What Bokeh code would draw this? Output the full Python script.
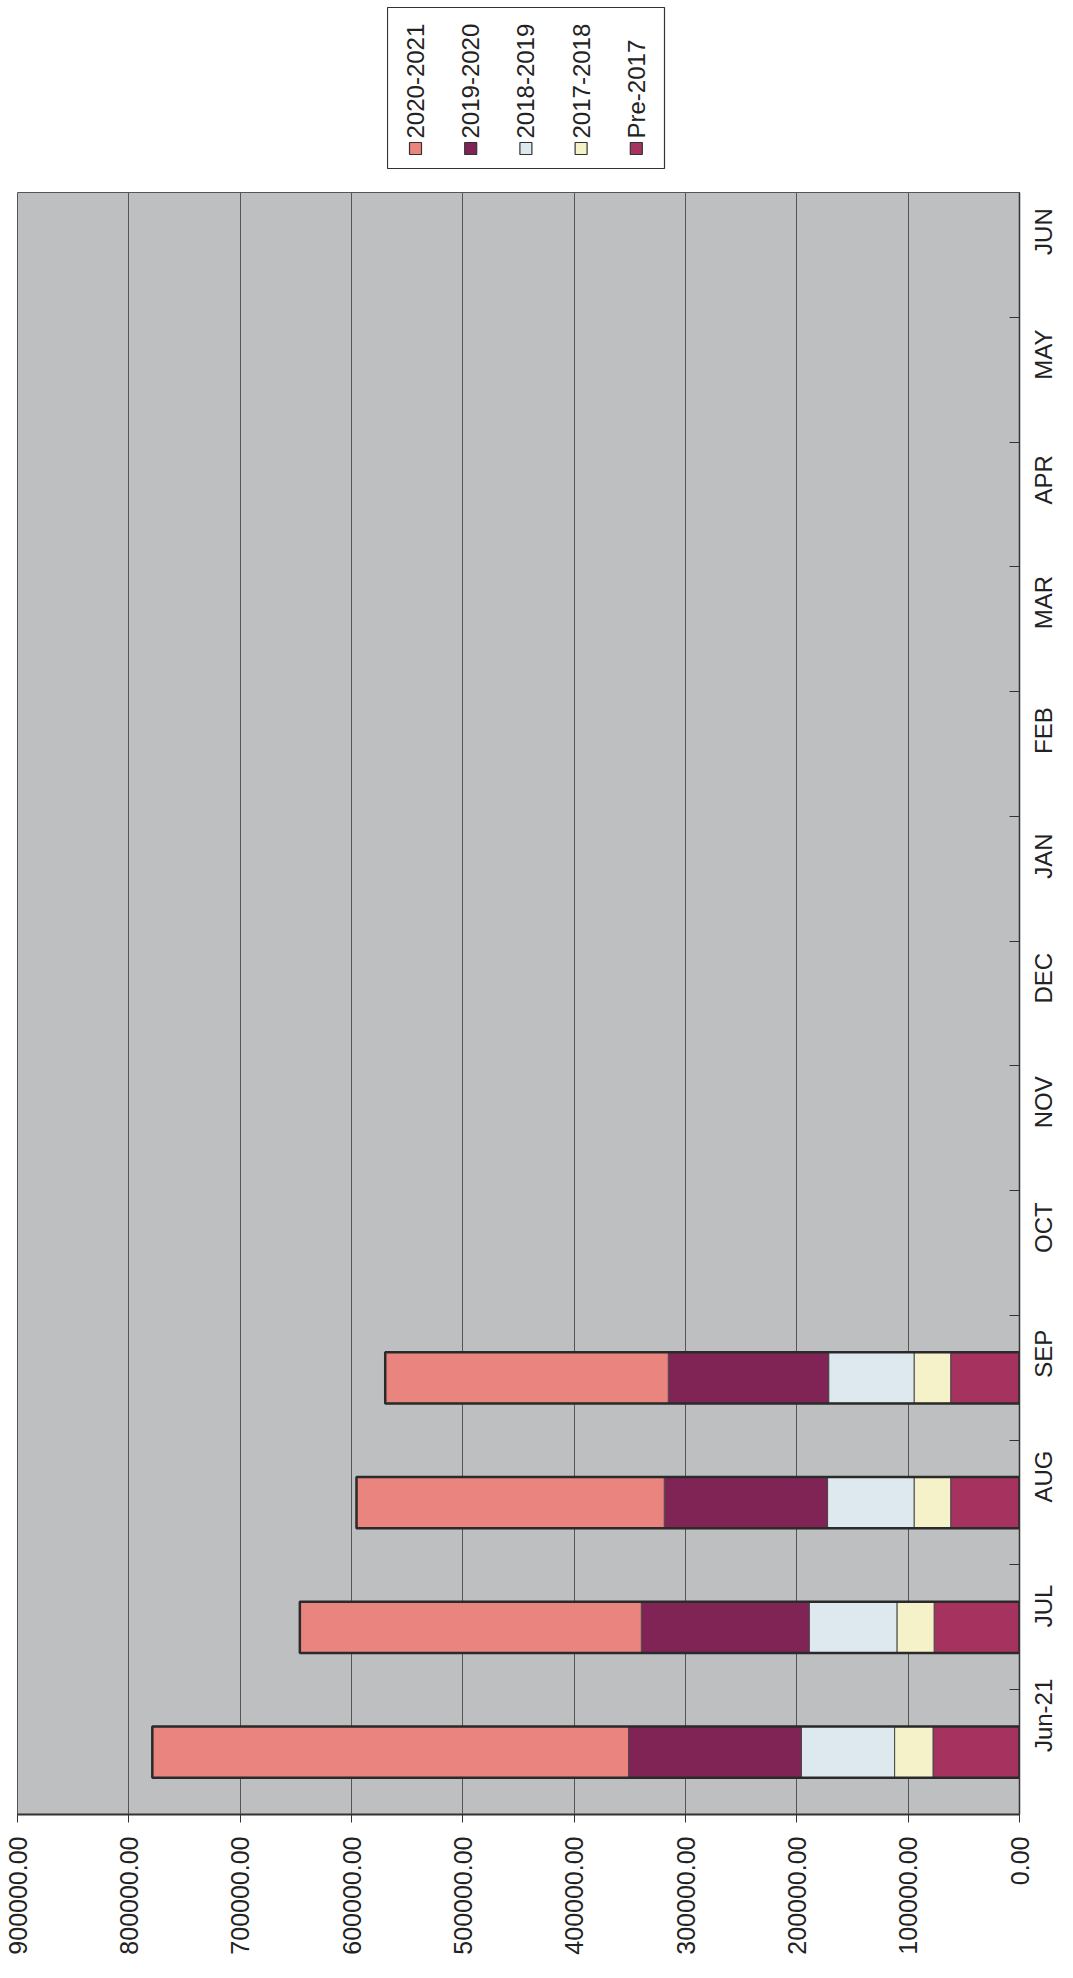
import math
from bokeh.plotting import figure
from bokeh.models import Range1d, FixedTicker, NumeralTickFormatter, ColumnDataSource, Spacer
from bokeh.layouts import column, row
from bokeh.embed import file_html
from bokeh.resources import INLINE
from bokeh.core.properties import value

# ---------------- data ----------------
categories = ["Jun-21", "JUL", "AUG", "SEP", "OCT", "NOV", "DEC",
              "JAN", "FEB", "MAR", "APR", "MAY", "JUN"]
data_months = ["Jun-21", "JUL", "AUG", "SEP"]
pre_2017 = [77700, 76700, 61800, 61800]
s2017_2018 = [34500, 33400, 32900, 32900]
s2018_2019 = [83600, 78800, 77700, 76700]
s2019_2020 = [155400, 150800, 146700, 144100]
s2020_2021 = [427700, 306700, 276400, 254200]
series_names = ["Pre-2017", "2017-2018", "2018-2019", "2019-2020", "2020-2021"]
series_colors = ["#a6325f", "#f5f1c8", "#dde9ef", "#7f2455", "#e9847e"]
x_ticks = [0, 100000, 200000, 300000, 400000, 500000, 600000, 700000, 800000, 900000]

FONT = "Liberation Sans"
TXT = "#222222"

series_values = [pre_2017, s2017_2018, s2018_2019, s2019_2020, s2020_2021]
idx = {c: i for i, c in enumerate(categories)}
ys = [idx[m] + 0.5 for m in data_months]
totals = [sum(v) for v in zip(*series_values)]
src = {"y": ys, "total": totals}
for name, vals in zip(series_names, series_values):
    src[name] = vals
source = ColumnDataSource(src)

# ---------------- main chart ----------------
p = figure(width=1073, height=1808,
           x_range=Range1d(max(x_ticks), 0), y_range=Range1d(0, len(categories)),
           output_backend="svg", toolbar_location=None, y_axis_location="right",
           min_border_left=17, min_border_right=53, min_border_top=22, min_border_bottom=164,
           background_fill_color="#bebfc1", border_fill_color="white")
p.outline_line_color = "#555555"
p.outline_line_width = 1

p.hbar_stack(series_names, y="y", height=0.41, color=series_colors, source=source,
             line_color="#4a4a4a", line_width=1)
p.hbar(y="y", left=0, right="total", height=0.41, source=source,
       fill_color=None, line_color="#2a2a2a", line_width=2.5)

p.xaxis.ticker = FixedTicker(ticks=x_ticks)
p.xaxis.formatter = NumeralTickFormatter(format="0.00")
p.xaxis.major_label_orientation = math.pi / 2
p.xaxis.major_label_text_font = FONT
p.xaxis.major_label_text_font_size = "25px"
p.xaxis.major_label_text_color = TXT
p.xaxis.major_label_standoff = 14
p.xaxis.major_tick_out = 8
p.xaxis.major_tick_in = 0
p.xaxis.minor_tick_out = 0
p.xaxis.axis_line_color = "#333333"
p.xaxis.axis_line_width = 2
p.xaxis.major_tick_line_color = "#333333"

centers = [i + 0.5 for i in range(len(categories))]
bounds = list(range(1, len(categories)))
p.yaxis.ticker = FixedTicker(ticks=centers, minor_ticks=bounds)
p.yaxis.major_label_overrides = {c: lab for c, lab in zip(centers, categories)}
p.yaxis.major_label_orientation = math.pi / 2
p.yaxis.major_label_text_font = FONT
p.yaxis.major_label_text_font_size = "24px"
p.yaxis.major_label_text_color = TXT
p.yaxis.major_label_standoff = 24
p.yaxis.major_tick_in = 0
p.yaxis.major_tick_out = 0
p.yaxis.minor_tick_in = 10
p.yaxis.minor_tick_out = 0
p.yaxis.minor_tick_line_color = "#333333"
p.yaxis.axis_line_color = "#333333"
p.yaxis.axis_line_width = 1.5

p.xgrid.grid_line_color = "#555555"
p.xgrid.grid_line_width = 1
p.ygrid.visible = False

# ---------------- legend (rotated, as in the reference) ----------------
lf = figure(width=279, height=170, x_range=Range1d(0, 277), y_range=Range1d(0, 161),
            output_backend="svg", toolbar_location=None,
            min_border_left=0, min_border_right=2, min_border_top=7, min_border_bottom=2,
            background_fill_color="white", border_fill_color="white")
lf.axis.visible = False
lf.grid.visible = False
lf.outline_line_color = "#333333"
lf.outline_line_width = 1.2

legend_order = list(reversed(series_names))
legend_colors = list(reversed(series_colors))
lx = [28 + i * 55.2 for i in range(len(legend_order))]
leg_src = ColumnDataSource(dict(x=lx, c=legend_colors, t=legend_order))
lf.rect(x="x", y=20, width=12, height=12, fill_color="c", line_color="#333333",
        line_width=1.2, source=leg_src)
lf.text(x="x", y=30, text="t", angle=math.pi / 2, text_align="left", text_baseline="middle",
        text_font=value(FONT), text_font_size="24px", text_color=TXT, source=leg_src)

layout = column(row(Spacer(width=387, height=170), lf), p)
open("out.html", "w").write(file_html(layout, INLINE))
